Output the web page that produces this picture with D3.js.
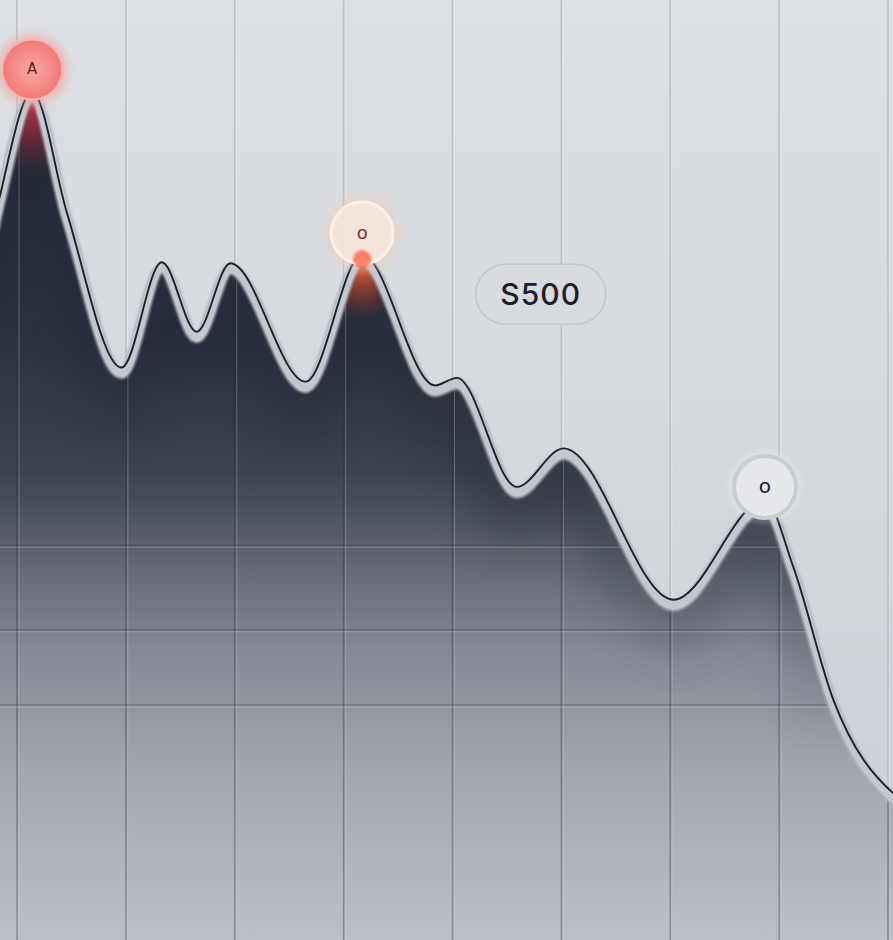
<!DOCTYPE html>
<html><head><meta charset="utf-8">
<script src="https://cdn.jsdelivr.net/npm/d3@7"></script>
<style>html,body{margin:0;padding:0;background:#d6d9de;overflow:hidden}</style>
</head><body><svg id="c" width="893" height="940"></svg>
<script>
// ---- data ----
const xs     = [-0.34,-0.16,0.14,0.46,0.96,1.33,1.65,1.96,2.65,3.17,3.84,4.04,4.59,5.02,6.03,6.87,7.13,7.50,8.05,8.20];
const values = [69.2,79.0,90.2,77.3,60.9,72.1,64.7,72.0,59.4,72.9,59.0,59.8,48.2,52.3,36.2,46.8,39.7,25.5,15.6,14.4];
const gridX = [0,1,2,3,4,5,6,7,8];
const gridY = [42,33,25];
const markerX = [0.14, 3.17, 6.87];
const markerV = [92.6, 75.2, 48.2];
const markerText = ["A","o","o"];
const calloutX = [4.81];
const calloutV = [68.7];
const calloutText = ["S500"];

// ---- chart ----
const W = 893, H = 940;
const svg = d3.select("#c");
const x = d3.scaleLinear().domain([0,8]).range([17,888]);
const y = d3.scaleLinear().domain([0,100]).range([940,0]);
const pts = xs.map((d,i)=>({x:d, v:values[i]}));
const defs = svg.append("defs");

function lg(id, stops, x1,y1,x2,y2){
  const g = defs.append("linearGradient").attr("id",id).attr("gradientUnits","userSpaceOnUse")
    .attr("x1",x1).attr("y1",y1).attr("x2",x2).attr("y2",y2);
  stops.forEach(s=>g.append("stop").attr("offset",s[0]).attr("stop-color",s[1]).attr("stop-opacity",s[2]==null?1:s[2]));
}
function rg(id, stops){
  const g = defs.append("radialGradient").attr("id",id);
  stops.forEach(s=>g.append("stop").attr("offset",s[0]).attr("stop-color",s[1]).attr("stop-opacity",s[2]==null?1:s[2]));
}
lg("bg", [[0,"#dcdfe3"],[0.5,"#d4d7dc"],[1,"#cbcfd5"]], 0,0,0,H);
lg("fill", [[0,"#262c39"],[0.3,"#2d3341"],[0.45,"#3e444f"],[0.55,"#60656f"],[0.66,"#848993"],[0.8,"#a1a6af"],[1,"#bcc1c8"]], 0,90,0,H);
lg("fadeMask", [[0,"#fff"],[0.55,"#fff"],[0.8,"#000"],[1,"#000"]], 0,0,0,H);
rg("redglow", [[0,"#d8324a",0.95],[0.5,"#a52a3c",0.55],[1,"#8a2030",0]]);
rg("orgglow", [[0,"#ff6a3a",0.95],[0.5,"#d84a2c",0.5],[1,"#a03020",0]]);
rg("m1", [[0,"#f9a7a3"],[0.7,"#f48784"],[1,"#f07a78"]]);
rg("m1halo", [[0.6,"#ff8a86",0.6],[1,"#ff9a96",0]]);
rg("m2halo", [[0.6,"#ffc0a0",0.55],[1,"#ffd0b8",0]]);
rg("m3halo", [[0.7,"#ffffff",0.35],[1,"#ffffff",0]]);
defs.append("mask").attr("id","fade").append("rect").attr("width",W).attr("height",H).attr("fill","url(#fadeMask)");
defs.append("filter").attr("id","blur").attr("x","-50%").attr("y","-50%").attr("width","200%").attr("height","200%")
  .append("feGaussianBlur").attr("stdDeviation",22);
defs.append("filter").attr("id","soft").attr("x","-50%").attr("y","-50%").attr("width","200%").attr("height","200%")
  .append("feGaussianBlur").attr("stdDeviation",1.2);

const curve = d3.curveMonotoneX;
const line = d3.line().x(d=>x(d.x)).y(d=>y(d.v)).curve(curve);
const area = d3.area().x(d=>x(d.x)).y0(H+20).y1(d=>y(d.v)+7).curve(curve);

defs.append("clipPath").attr("id","areaClip").append("path").attr("d",area(pts));

// background
svg.append("rect").attr("width",W).attr("height",H).attr("fill","url(#bg)");
// vertical grid (background)
svg.append("g").selectAll("line").data(gridX).join("line")
  .attr("x1",d=>x(d)).attr("x2",d=>x(d)).attr("y1",0).attr("y2",H)
  .attr("stroke","#bcc0c7").attr("stroke-width",1.6);
svg.append("g").selectAll("line").data(gridX).join("line")
  .attr("x1",d=>x(d)+1.6).attr("x2",d=>x(d)+1.6).attr("y1",0).attr("y2",H)
  .attr("stroke","#e6e8eb").attr("stroke-width",1).attr("opacity",0.7);

// area
svg.append("path").attr("d",area(pts)).attr("fill","url(#fill)");
const inner = svg.append("g").attr("clip-path","url(#areaClip)");
// darker band along the curve (fades out lower down)
inner.append("g").attr("mask","url(#fade)").append("path").attr("d",line(pts)).attr("transform","translate(0,30)")
  .attr("fill","none").attr("stroke","#1e2430").attr("stroke-width",50).attr("opacity",0.35).attr("filter","url(#blur)");
// peak glows
inner.append("ellipse").attr("cx",x(markerX[0])).attr("cy",y(markerV[0])+30).attr("rx",40).attr("ry",75).attr("fill","url(#redglow)");
inner.append("ellipse").attr("cx",x(markerX[1])).attr("cy",y(markerV[1])+28).attr("rx",45).attr("ry",60).attr("fill","url(#orgglow)");
// grid inside area
inner.append("g").selectAll("line").data(gridX).join("line")
  .attr("x1",d=>x(d)).attr("x2",d=>x(d)).attr("y1",0).attr("y2",H)
  .attr("stroke","#2a303b").attr("stroke-width",1.6).attr("opacity",0.35);
inner.append("g").selectAll("line").data(gridX).join("line")
  .attr("x1",d=>x(d)+2).attr("x2",d=>x(d)+2).attr("y1",0).attr("y2",H)
  .attr("stroke","#c8ccd3").attr("stroke-width",1).attr("opacity",0.3);
inner.append("g").selectAll("line").data(gridY).join("line")
  .attr("x1",0).attr("x2",W).attr("y1",d=>y(d)).attr("y2",d=>y(d))
  .attr("stroke","#3a404b").attr("stroke-width",1.6).attr("opacity",0.35);
inner.append("g").selectAll("line").data(gridY).join("line")
  .attr("x1",0).attr("x2",W).attr("y1",d=>y(d)+2).attr("y2",d=>y(d)+2)
  .attr("stroke","#d0d4da").attr("stroke-width",1).attr("opacity",0.3);

// light band + dark line
svg.append("path").attr("d",line(pts)).attr("transform","translate(0,6)")
  .attr("fill","none").attr("stroke","#aeb2ba").attr("stroke-width",11).attr("filter","url(#soft)");
svg.append("path").attr("d",line(pts)).attr("transform","translate(0,5.5)")
  .attr("fill","none").attr("stroke","#c4c7cd").attr("stroke-width",8);
svg.append("path").attr("d",line(pts))
  .attr("fill","none").attr("stroke","#1b202b").attr("stroke-width",1.9);

// markers
const mx = i=>x(markerX[i]), my = i=>y(markerV[i]);
// marker 1
svg.append("circle").attr("cx",mx(0)).attr("cy",my(0)).attr("r",42).attr("fill","url(#m1halo)");
svg.append("circle").attr("cx",mx(0)).attr("cy",my(0)).attr("r",30).attr("fill","url(#m1)").attr("stroke","#f9b3ae").attr("stroke-width",2);
// marker 2
svg.append("circle").attr("cx",mx(1)).attr("cy",my(1)).attr("r",44).attr("fill","url(#m2halo)");
svg.append("circle").attr("cx",mx(1)).attr("cy",my(1)).attr("r",31).attr("fill","#f6ebe5").attr("fill-opacity",0.75)
  .attr("stroke","#fbefe8").attr("stroke-width",3);
svg.append("circle").attr("cx",mx(1)).attr("cy",my(1)+26).attr("r",9).attr("fill","#ff5a3a").attr("opacity",0.7).attr("filter","url(#soft)");
// marker 3
svg.append("circle").attr("cx",mx(2)).attr("cy",my(2)).attr("r",40).attr("fill","url(#m3halo)");
svg.append("circle").attr("cx",mx(2)).attr("cy",my(2)).attr("r",31).attr("fill","#e5e7eb")
  .attr("stroke","#c9ccd2").attr("stroke-width",4);
const mColors = ["#6e1820","#7c3020","#1a1d24"];
const mSizes = [15,18,20];
svg.append("g").selectAll("text").data(markerText).join("text")
  .attr("x",(d,i)=>mx(i)).attr("y",(d,i)=>my(i)).attr("dy","0.32em")
  .attr("text-anchor","middle").attr("font-family","DejaVu Sans, sans-serif")
  .attr("font-size",(d,i)=>mSizes[i]).attr("fill",(d,i)=>mColors[i]).text(d=>d);

// callout
const cg = svg.append("g").attr("transform",`translate(${x(calloutX[0])},${y(calloutV[0])})`);
cg.append("rect").attr("x",-65).attr("y",-30).attr("width",130).attr("height",60).attr("rx",30)
  .attr("fill","#d7dadf").attr("stroke","#c4c7cd").attr("stroke-width",1.6);
cg.append("text").attr("text-anchor","middle").attr("dy","0.36em")
  .attr("font-family","Inter, 'Open Sans', sans-serif").attr("font-size",30).attr("font-weight",500)
  .attr("letter-spacing",1).attr("fill","#1d2027").text(calloutText[0]);
</script></body></html>
